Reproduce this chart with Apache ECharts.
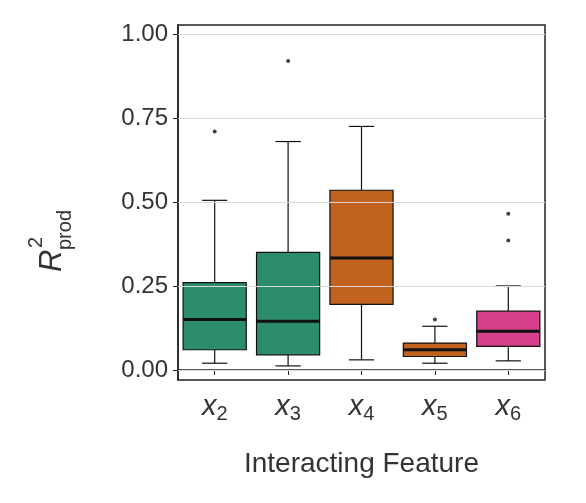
<!DOCTYPE html>
<html><head><meta charset="utf-8">
<script src="https://cdn.jsdelivr.net/npm/echarts@6/dist/echarts.min.js"></script>
<style>html,body{margin:0;background:#fff}#c{width:586px;height:503px}</style>
</head><body><div id="c"></div>
<script>
// features on x axis
let features = ["2", "3", "4", "5", "6"];
// [low, Q1, median, Q3, high]
let box_values = [
    [0.02, 0.06, 0.15, 0.26, 0.505],
    [0.012, 0.045, 0.145, 0.35, 0.68],
    [0.03, 0.195, 0.333, 0.535, 0.725],
    [0.02, 0.04, 0.06, 0.08, 0.13],
    [0.027, 0.07, 0.115, 0.175, 0.25]
];
let box_colors = ["#2b8c6e", "#2b8c6e", "#c2621f", "#c2621f", "#d4418a"];
// outliers: [feature index, value]
let outliers = [[0, 0.71], [1, 0.92], [3, 0.15], [4, 0.385], [4, 0.465]];
let y_ticks = [0, 0.25, 0.5, 0.75, 1.0];

let chart = echarts.init(document.getElementById("c"));
let font = "'Liberation Sans', Arial, sans-serif";
let txt = "#333";

// Draw one box with whiskers
function render_box(params, api) {
    let i = api.value(0);
    let p = [1, 2, 3, 4, 5].map(k => api.coord([i, api.value(k)]));
    let bw = api.size([1, 0])[0] * 0.86;
    let cw = bw * 0.4;
    let x = p[0][0];
    let line = {stroke: "#111", lineWidth: 1.2};
    return {
        type: "group",
        children: [
            {type: "line", shape: {x1: x, y1: p[0][1], x2: x, y2: p[1][1]}, style: line},
            {type: "line", shape: {x1: x, y1: p[3][1], x2: x, y2: p[4][1]}, style: line},
            {type: "line", shape: {x1: x - cw / 2, y1: p[0][1], x2: x + cw / 2, y2: p[0][1]}, style: line},
            {type: "line", shape: {x1: x - cw / 2, y1: p[4][1], x2: x + cw / 2, y2: p[4][1]}, style: line},
            {type: "rect", shape: {x: x - bw / 2, y: p[3][1], width: bw, height: p[1][1] - p[3][1]},
                style: {fill: box_colors[i], stroke: "#111", lineWidth: 1.2}},
            {type: "line", shape: {x1: x - bw / 2, y1: p[2][1], x2: x + bw / 2, y2: p[2][1]},
                style: {stroke: "#111", lineWidth: 3}}
        ]
    };
}

chart.setOption({
    animation: false,
    grid: {left: 178, right: 41, top: 25, bottom: 123, show: true, borderColor: "#222", borderWidth: 1.5},
    xAxis: {
        type: "category",
        data: features,
        axisLine: {show: true, lineStyle: {color: "#222", width: 1.5}},
        axisTick: {show: true, alignWithLabel: true, length: 5, lineStyle: {color: "#222"}},
        axisLabel: {
            margin: 10,
            formatter: v => "{x|x}{s|" + v + "}",
            rich: {
                x: {fontSize: 29, fontStyle: "italic", color: txt, fontFamily: font},
                s: {fontSize: 20, color: txt, fontFamily: font, verticalAlign: "bottom", padding: [14, 0, 0, 0]}
            }
        },
        name: "Interacting Feature",
        nameLocation: "middle",
        nameGap: 70,
        nameTextStyle: {fontSize: 28, color: txt, fontFamily: font}
    },
    yAxis: {
        type: "value",
        min: -0.03, max: 1.027,
        axisLine: {show: true, lineStyle: {color: "#222", width: 1.5}},
        axisTick: {show: true, length: 5, lineStyle: {color: "#222"}, customValues: y_ticks},
        axisLabel: {fontSize: 24, color: txt, fontFamily: font, margin: 10,
            customValues: y_ticks, formatter: v => v.toFixed(2)},
        splitLine: {show: false}
    },
    series: [
        {
            type: "line", data: [], silent: true,
            markLine: {
                symbol: "none", silent: true, label: {show: false},
                lineStyle: {color: "#d9d9d9", type: "solid", width: 1.2},
                data: y_ticks.map(v => ({yAxis: v}))
            }
        },
        {
            type: "custom",
            renderItem: render_box,
            data: box_values.map((v, i) => [i].concat(v)),
            encode: {x: 0, y: [1, 2, 3, 4, 5]},
            z: 3
        },
        {
            type: "scatter",
            data: outliers,
            symbolSize: 4,
            itemStyle: {color: "#111"},
            z: 4
        }
    ],
    graphic: [{
        type: "group", x: 52, y: 272, rotation: Math.PI / 2,
        children: [
            {type: "text", x: 0, y: 0, style: {text: "R", fontSize: 31, fontStyle: "italic", fill: txt,
                fontFamily: font, verticalAlign: "middle"}},
            {type: "text", x: 24, y: -16, style: {text: "2", fontSize: 20, fill: txt,
                fontFamily: font, verticalAlign: "middle"}},
            {type: "text", x: 22, y: 13, style: {text: "prod", fontSize: 20, fill: txt,
                fontFamily: font, verticalAlign: "middle"}}
        ]
    }]
});
</script></body></html>
